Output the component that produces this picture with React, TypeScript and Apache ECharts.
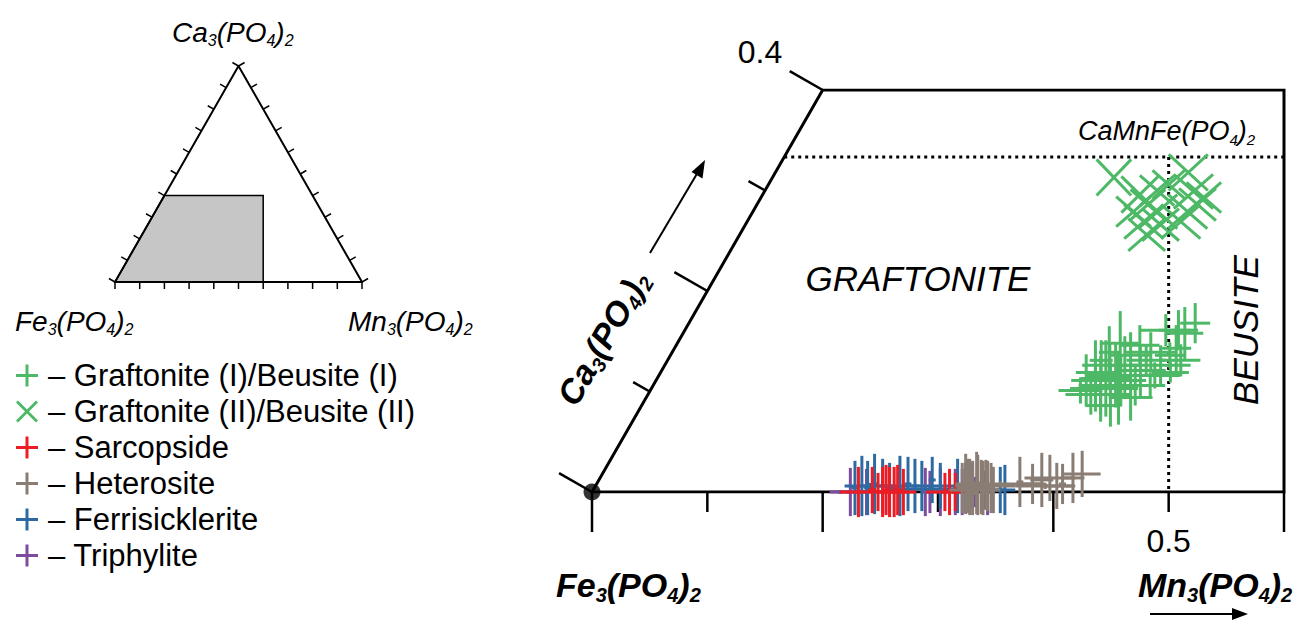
import React, { useEffect, useRef } from 'react';
import * as echarts from 'echarts';

const FONT = '"Liberation Sans", Arial, Helvetica, sans-serif';

// Compositions: [Mn, Ca, ±Mn, ±Ca] as molar fractions (Fe = 1 - Mn - Ca)
const graftoniteI = [
  [0.439, 0.168, 0.013, 0.020], [0.435, 0.158, 0.016, 0.026], [0.428, 0.161, 0.017, 0.020],
  [0.417, 0.161, 0.022, 0.016], [0.402, 0.146, 0.017, 0.020], [0.384, 0.148, 0.016, 0.032],
  [0.376, 0.131, 0.010, 0.020], [0.399, 0.136, 0.017, 0.023], [0.415, 0.139, 0.022, 0.020],
  [0.435, 0.143, 0.013, 0.023], [0.445, 0.131, 0.017, 0.016], [0.430, 0.126, 0.026, 0.020],
  [0.415, 0.121, 0.022, 0.026], [0.386, 0.126, 0.024, 0.023], [0.377, 0.119, 0.017, 0.032],
  [0.373, 0.111, 0.013, 0.026], [0.388, 0.106, 0.019, 0.029], [0.403, 0.111, 0.022, 0.026],
  [0.418, 0.106, 0.026, 0.020], [0.430, 0.116, 0.022, 0.013], [0.442, 0.119, 0.016, 0.010],
  [0.384, 0.097, 0.022, 0.020], [0.401, 0.097, 0.017, 0.032], [0.420, 0.094, 0.019, 0.023],
  [0.398, 0.086, 0.013, 0.016], [0.396, 0.116, 0.026, 0.032], [0.389, 0.113, 0.022, 0.038],
  [0.399, 0.126, 0.013, 0.029], [0.415, 0.131, 0.017, 0.016], [0.373, 0.101, 0.019, 0.013],
  [0.385, 0.103, 0.022, 0.023], [0.405, 0.103, 0.017, 0.036], [0.433, 0.136, 0.013, 0.013],
  [0.431, 0.106, 0.010, 0.013], [0.379, 0.139, 0.009, 0.026],
];

const graftoniteII = [
  [0.296, 0.313, 0.015, 0.018], [0.358, 0.318, 0.017, 0.018], [0.327, 0.296, 0.016, 0.018],
  [0.339, 0.286, 0.015, 0.015], [0.351, 0.279, 0.017, 0.017], [0.344, 0.269, 0.017, 0.017],
  [0.353, 0.256, 0.016, 0.016], [0.347, 0.306, 0.014, 0.014], [0.372, 0.299, 0.017, 0.017],
  [0.384, 0.293, 0.015, 0.015], [0.377, 0.279, 0.017, 0.017], [0.382, 0.286, 0.016, 0.016],
  [0.330, 0.279, 0.015, 0.015], [0.376, 0.269, 0.017, 0.017], [0.360, 0.266, 0.016, 0.016],
  [0.340, 0.300, 0.015, 0.015],
];

const sarcopside = [
  [0.231, 0.000, 0.004, 0.025], [0.242, 0.002, 0.0035, 0.023], [0.252, 0.000, 0.003, 0.025],
  [0.254, 0.002, 0.003, 0.025], [0.258, 0.000, 0.003, 0.025], [0.262, 0.000, 0.003, 0.025],
  [0.264, 0.002, 0.003, 0.025], [0.248, 0.000, 0.033, 0.019], [0.270, 0.000, 0.003, 0.023],
  [0.306, 0.000, 0.003, 0.019], [0.310, 0.000, 0.020, 0.023], [0.315, 0.000, 0.003, 0.019],
];

const heterosite = [
  [0.319, 0.004, 0.004, 0.025], [0.323, 0.006, 0.004, 0.027], [0.328, 0.004, 0.004, 0.027],
  [0.331, 0.007, 0.007, 0.030], [0.337, 0.004, 0.005, 0.027], [0.340, 0.006, 0.004, 0.025],
  [0.347, 0.002, 0.0035, 0.023], [0.320, 0.008, 0.0035, 0.030], [0.325, 0.005, 0.0035, 0.028],
  [0.329, 0.009, 0.004, 0.031], [0.335, 0.005, 0.0035, 0.027], [0.338, 0.007, 0.0035, 0.025],
  [0.344, 0.004, 0.0035, 0.025], [0.331, 0.002, 0.022, 0.005], [0.338, 0.006, 0.026, 0.004],
  [0.350, 0.008, 0.039, 0.003], [0.366, 0.010, 0.003, 0.025], [0.378, 0.008, 0.009, 0.020],
  [0.384, 0.012, 0.010, 0.027], [0.390, 0.014, 0.022, 0.023], [0.400, 0.006, 0.013, 0.023],
  [0.404, 0.008, 0.003, 0.020], [0.410, 0.014, 0.010, 0.025], [0.416, 0.018, 0.016, 0.023],
  [0.390, 0.006, 0.026, 0.003],
];

const ferrisicklerite = [
  [0.226, 0.004, 0.003, 0.027], [0.231, 0.006, 0.003, 0.030], [0.237, 0.004, 0.003, 0.027],
  [0.241, 0.008, 0.003, 0.030], [0.249, 0.006, 0.003, 0.027], [0.256, 0.004, 0.003, 0.025],
  [0.264, 0.006, 0.017, 0.030], [0.270, 0.008, 0.003, 0.027], [0.277, 0.006, 0.003, 0.027],
  [0.283, 0.006, 0.003, 0.025], [0.289, 0.012, 0.003, 0.023], [0.299, 0.006, 0.013, 0.023],
  [0.314, 0.006, 0.003, 0.027], [0.322, 0.004, 0.003, 0.025], [0.327, 0.006, 0.003, 0.023],
  [0.340, 0.002, 0.003, 0.019], [0.353, 0.002, 0.003, 0.023], [0.357, 0.002, 0.009, 0.025],
  [0.238, 0.006, 0.022, 0.003], [0.292, 0.003, 0.035, 0.003],
];

const triphylite = [
  [0.224, 0.000, 0.003, 0.024], [0.215, 0.000, 0.009, 0.002], [0.238, 0.000, 0.003, 0.023],
  [0.289, 0.000, 0.003, 0.024], [0.293, 0.000, 0.003, 0.021], [0.302, 0.000, 0.003, 0.024],
  [0.315, 0.000, 0.003, 0.023], [0.321, 0.000, 0.003, 0.023], [0.343, 0.000, 0.003, 0.023],
  [0.332, 0.000, 0.003, 0.015],
];

const seriesNames = [
  'Graftonite (I)/Beusite (I)',
  'Graftonite (II)/Beusite (II)',
  'Sarcopside',
  'Heterosite',
  'Ferrisicklerite',
  'Triphylite',
];
const seriesColors = ['#4DB966', '#4DB966', '#EC1C24', '#8A7D74', '#2E6AA2', '#7E4B9E'];

const MN_MAX = 0.6;
const CA_MAX = 0.4;
const bottomTicks = [0, 0.1, 0.2, 0.3, 0.4, 0.5, 0.6];
const caTicks = [0, 0.1, 0.2, 0.3, 0.4];
const insetTicks = [0, 0.1, 0.2, 0.3, 0.4, 0.5, 0.6, 0.7, 0.8, 0.9, 1];
const labeledTick = 0.5;
const caMnFe = { mn: 1 / 3, ca: 1 / 3 };

const PLUS_ICON = 'path://M9.5,0h3v9.5h9.5v3h-9.5v9.5h-3v-9.5h-9.5v-3h9.5z';
const X_ICON = 'path://M2,0L11,9L20,0L22,2L13,11L22,20L20,22L11,13L2,22L0,20L9,11L0,2Z';

const cart = (mn: number, ca: number) => [mn + ca / 2, ca];

function crossSeries(name: string, data: number[][], color: string, kind: 'plus' | 'x') {
  return {
    type: 'custom',
    name,
    xAxisIndex: 0,
    yAxisIndex: 0,
    clip: false,
    z: 3,
    itemStyle: { color },
    data: data.map(([mn, ca, emn, eca]) => [mn + ca / 2, ca, emn, eca]),
    renderItem: (_p: any, api: any) => {
      const x = api.value(0), y = api.value(1), ex = api.value(2), ey = api.value(3);
      const style = { stroke: color, lineWidth: 3 };
      if (kind === 'plus') {
        const c = api.coord([x, y]);
        const l = api.coord([x - ex, y]);
        const r = api.coord([x + ex, y]);
        const t = api.coord([x, y + ey]);
        const b = api.coord([x, y - ey]);
        return {
          type: 'group',
          children: [
            { type: 'line', shape: { x1: l[0], y1: c[1], x2: r[0], y2: c[1] }, style },
            { type: 'line', shape: { x1: c[0], y1: t[1], x2: c[0], y2: b[1] }, style },
          ],
        };
      }
      const a = api.coord([x - ex, y - ey]);
      const b = api.coord([x + ex, y + ey]);
      const c = api.coord([x - ex, y + ey]);
      const d = api.coord([x + ex, y - ey]);
      return {
        type: 'group',
        children: [
          { type: 'line', shape: { x1: a[0], y1: a[1], x2: b[0], y2: b[1] }, style },
          { type: 'line', shape: { x1: c[0], y1: c[1], x2: d[0], y2: d[1] }, style },
        ],
      };
    },
  };
}

function tickSeries(points: number[][], A: number[], B: number[], sign: number, width: number, idx: number) {
  return {
    type: 'custom',
    xAxisIndex: idx,
    yAxisIndex: idx,
    clip: false,
    silent: true,
    z: 2,
    data: points,
    renderItem: (_p: any, api: any) => {
      const p = api.coord([api.value(0), api.value(1)]);
      const a = api.coord(A);
      const b = api.coord(B);
      let dx = b[0] - a[0], dy = b[1] - a[1];
      const L = Math.hypot(dx, dy);
      dx /= L; dy /= L;
      const nx = dy * sign, ny = -dx * sign;
      const len = api.value(2);
      return {
        type: 'line',
        shape: { x1: p[0], y1: p[1], x2: p[0] + nx * len, y2: p[1] + ny * len },
        style: { stroke: '#000', lineWidth: width },
      };
    },
  };
}

function lineSeries(data: number[][], width: number, idx: number, dotted = false) {
  return {
    type: 'line',
    xAxisIndex: idx,
    yAxisIndex: idx,
    data,
    symbol: 'none',
    silent: true,
    z: 1,
    lineStyle: { color: '#000', width, type: dotted ? [3, 4] : 'solid', join: 'miter', cap: dotted ? 'butt' : 'square' },
  };
}

function chemRich(size: number, sub: number, bold: boolean, lh: number) {
  const fw = bold ? 'bold' : 'normal';
  return {
    m: { fontSize: size, fontStyle: 'italic', fontWeight: fw, fontFamily: FONT, lineHeight: lh, fill: '#000' },
    s: { fontSize: sub, fontStyle: 'italic', fontWeight: fw, fontFamily: FONT, lineHeight: sub, verticalAlign: 'bottom', fill: '#000' },
  };
}

function chemText(x: number, y: number, text: string, size: number, sub: number, bold: boolean, align = 'left', rotation = 0) {
  return {
    type: 'text',
    x,
    y,
    rotation,
    silent: true,
    style: {
      text,
      fill: '#000',
      align,
      verticalAlign: 'middle',
      rich: chemRich(size, sub, bold, Math.round(size * 1.18)),
    },
  };
}

function plainText(x: number, y: number, text: string, size: number, italic: boolean, rotation = 0) {
  return {
    type: 'text',
    x,
    y,
    rotation,
    silent: true,
    style: {
      text,
      fill: '#000',
      fontSize: size,
      fontFamily: FONT,
      fontStyle: italic ? 'italic' : 'normal',
      align: 'center',
      verticalAlign: 'middle',
    },
  };
}

function buildOption() {
  const dataSets = [graftoniteI, graftoniteII, sarcopside, heterosite, ferrisicklerite, triphylite];
  const kinds: ('plus' | 'x')[] = ['plus', 'x', 'plus', 'plus', 'plus', 'plus'];
  const drawOrder = [0, 1, 5, 4, 2, 3];
  const dataSeries = drawOrder.map((i) => crossSeries(seriesNames[i], dataSets[i], seriesColors[i], kinds[i]));

  const ca3 = '{m|Ca}{s|3}{m|(PO}{s|4}{m|)}{s|2}';
  const fe3 = '{m|Fe}{s|3}{m|(PO}{s|4}{m|)}{s|2}';
  const mn3 = '{m|Mn}{s|3}{m|(PO}{s|4}{m|)}{s|2}';

  const arrowStyle = { stroke: '#000', lineWidth: 2 };

  return {
    animation: false,
    backgroundColor: '#fff',
    grid: [
      { left: 592, right: 14, top: 90, bottom: 129 },
      { left: 115, width: 247, top: 66, height: 216 },
    ],
    xAxis: [
      {
        type: 'value', gridIndex: 0, min: 0, max: MN_MAX, interval: 0.1,
        axisLine: { show: false }, axisTick: { show: false }, splitLine: { show: false },
        axisLabel: {
          formatter: (v: number) => (Math.abs(v - labeledTick) < 1e-6 ? String(labeledTick) : ''),
          fontSize: 32, fontFamily: FONT, color: '#000', margin: 33,
        },
      },
      { type: 'value', gridIndex: 1, min: 0, max: 1, show: false },
    ],
    yAxis: [
      { type: 'value', gridIndex: 0, min: 0, max: CA_MAX, show: false },
      { type: 'value', gridIndex: 1, min: 0, max: 1, show: false },
    ],
    legend: {
      orient: 'vertical',
      left: 11,
      top: 355,
      itemWidth: 22,
      itemHeight: 22,
      itemGap: 5,
      selectedMode: false,
      formatter: (n: string) => '– ' + n,
      textStyle: { fontSize: 31, lineHeight: 31, fontFamily: FONT, color: '#000', padding: [0, 0, 0, 5] },
      data: seriesNames.map((n, i) => ({ name: n, icon: i === 1 ? X_ICON : PLUS_ICON, itemStyle: { color: seriesColors[i] } })),
    },
    series: [
      // main frame
      lineSeries([cart(0, 0), cart(MN_MAX, 0), [MN_MAX, CA_MAX], cart(0, CA_MAX), cart(0, 0)], 3, 0),
      // CaMnFe(PO4)2 reference lines
      lineSeries([cart(0, caMnFe.ca), [MN_MAX, caMnFe.ca]], 3, 0, true),
      lineSeries([cart(caMnFe.mn, caMnFe.ca), [cart(caMnFe.mn, caMnFe.ca)[0], 0]], 3, 0, true),
      // main ticks
      tickSeries(bottomTicks.map((m, i) => [m, 0, i % 2 === 0 ? 40 : 20]), [0, 0], [MN_MAX, 0], -1, 2.5, 0),
      tickSeries(caTicks.map((c, i) => [...cart(0, c), i % 2 === 0 ? 38 : 19]), cart(0, 0), cart(0, CA_MAX), 1, 2.5, 0),
      // Fe3(PO4)2 vertex dot
      {
        type: 'scatter', xAxisIndex: 0, yAxisIndex: 0, data: [cart(0, 0)], symbol: 'circle', symbolSize: 17,
        itemStyle: { color: '#000' }, z: 5, silent: true,
      },
      ...dataSeries,
      // inset ternary
      {
        type: 'custom', xAxisIndex: 1, yAxisIndex: 1, clip: false, silent: true, z: 1,
        data: [[0, 0]],
        renderItem: (_p: any, api: any) => {
          const pts = [cart(0, 0), cart(MN_MAX, 0), [MN_MAX, CA_MAX], cart(0, CA_MAX)].map((p) => api.coord(p));
          return { type: 'polygon', shape: { points: pts }, style: { fill: '#C5C6C5', stroke: '#000', lineWidth: 1.5 } };
        },
      },
      lineSeries([cart(0, 0), cart(1, 0), cart(0, 1), cart(0, 0)], 2, 1),
      tickSeries(insetTicks.map((m) => [m, 0, 7]), cart(0, 0), cart(1, 0), -1, 1.5, 1),
      tickSeries(insetTicks.map((c) => [...cart(0, c), 7]), cart(0, 0), cart(0, 1), 1, 1.5, 1),
      tickSeries(insetTicks.map((c) => [...cart(1 - c, c), 7]), cart(1, 0), cart(0, 1), -1, 1.5, 1),
    ],
    graphic: [
      plainText(760, 52, '0.4', 32, false),
      plainText(918, 278, 'GRAFTONITE', 35, true),
      plainText(1245, 330, 'BEUSITE', 35, true, Math.PI / 2),
      chemText(1078, 131, '{m|CaMnFe(PO}{s|4}{m|)}{s|2}', 27, 15, false),
      chemText(603, 338, ca3, 34, 20, true, 'center', Math.PI / 3),
      chemText(556, 585, fe3, 34, 20, true),
      chemText(1138, 585, mn3, 34, 20, true),
      chemText(172, 32, ca3, 28, 16, false),
      chemText(15, 321, fe3, 28, 16, false),
      chemText(348, 321, mn3, 28, 16, false),
      // arrows
      { type: 'line', silent: true, shape: { x1: 1150, y1: 614, x2: 1236, y2: 614 }, style: arrowStyle },
      { type: 'polygon', silent: true, shape: { points: [[1232, 608], [1248, 614], [1232, 620]] }, style: { fill: '#000' } },
      { type: 'line', silent: true, shape: { x1: 650, y1: 253, x2: 698, y2: 172 }, style: arrowStyle },
      { type: 'polygon', silent: true, shape: { points: [[705, 160], [702.5, 178.5], [691.5, 172]] }, style: { fill: '#000' } },
    ],
  };
}

export default function App() {
  const ref = useRef<HTMLDivElement>(null);
  useEffect(() => {
    if (!ref.current) return;
    const chart = echarts.init(ref.current, null, { renderer: 'svg' });
    chart.setOption(buildOption() as any);
    return () => chart.dispose();
  }, []);
  return (
    <div
      ref={ref}
      style={{ position: 'fixed', left: 0, top: 0, width: 1298, height: 621, background: '#fff' }}
    />
  );
}
